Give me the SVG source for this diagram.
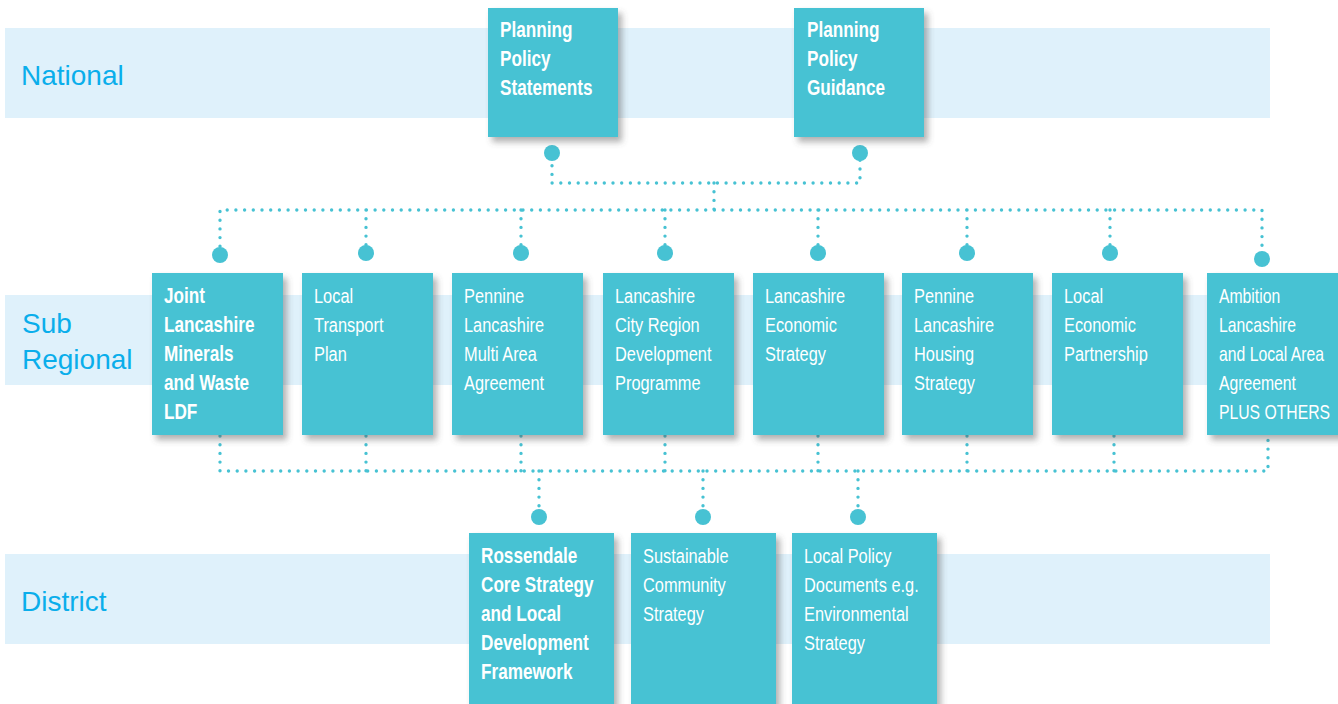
<svg xmlns="http://www.w3.org/2000/svg" width="1338" height="704" viewBox="0 0 1338 704">
<defs>
<filter id="sh" x="-10%" y="-10%" width="130%" height="130%">
<feDropShadow dx="4" dy="5" stdDeviation="3" flood-color="#555" flood-opacity="0.45"/>
</filter>
<style>
.band{fill:#DFF1FB}
.lbl{font-family:"Liberation Sans",Arial,sans-serif;font-size:28px;fill:#0AAEEB}
.box{fill:#47C2D3;filter:url(#sh)}
.t{font-family:"Liberation Sans",Arial,sans-serif;font-size:21px;fill:#fff}
.b{font-weight:bold;font-size:22px}
.dot{fill:none;stroke:#47C2D3;stroke-width:3.4;stroke-linecap:round;stroke-dasharray:0 8.7}
.c{fill:#47C2D3}
</style>
</defs>
<rect width="1338" height="704" fill="#fff"/>
<g id="bands">
<rect class="band" x="5" y="28" width="1265" height="90"/>
<rect class="band" x="5" y="295" width="1265" height="90"/>
<rect class="band" x="5" y="554" width="1265" height="90"/>
<text class="lbl" x="21" y="85">National</text>
<text class="lbl" x="22" y="333">Sub</text>
<text class="lbl" x="22" y="369">Regional</text>
<text class="lbl" x="21" y="611">District</text>
</g>
<g id="connectors">
<path class="dot" d="M552 157V183H860V157M714 183V210"/>
<path class="dot" d="M220 255V210H1262V259M366 210V253M521 210V253M665 210V253M818 210V253M967 210V253M1110 210V253"/>
<path class="dot" d="M220 436V471H1268V436M366 436V471M521 436V471M665 436V471M818 436V471M967 436V471M1114 436V471"/>
<path class="dot" d="M539 471V517M703 471V517M858 471V517"/>
<circle class="c" cx="552" cy="153" r="8"/>
<circle class="c" cx="860" cy="153" r="8"/>
<circle class="c" cx="220" cy="255" r="8"/>
<circle class="c" cx="366" cy="253" r="8"/>
<circle class="c" cx="521" cy="253" r="8"/>
<circle class="c" cx="665" cy="253" r="8"/>
<circle class="c" cx="818" cy="253" r="8"/>
<circle class="c" cx="967" cy="253" r="8"/>
<circle class="c" cx="1110" cy="253" r="8"/>
<circle class="c" cx="1262" cy="259" r="8"/>
<circle class="c" cx="539" cy="517" r="8"/>
<circle class="c" cx="703" cy="517" r="8"/>
<circle class="c" cx="858" cy="517" r="8"/>
</g>
<g id="pps"><rect class="box" x="488" y="8" width="130" height="129"/>
<text class="t b" transform="translate(500 0) scale(0.78 1)"><tspan x="0" y="37">Planning</tspan><tspan x="0" y="66">Policy</tspan><tspan x="0" y="95">Statements</tspan></text></g>
<g id="ppg"><rect class="box" x="794" y="8" width="130" height="129"/>
<text class="t b" transform="translate(807 0) scale(0.78 1)"><tspan x="0" y="37">Planning</tspan><tspan x="0" y="66">Policy</tspan><tspan x="0" y="95">Guidance</tspan></text></g>
<g id="jlmw"><rect class="box" x="152" y="273" width="131" height="162"/>
<text class="t b" transform="translate(164 0) scale(0.78 1)"><tspan x="0" y="303">Joint</tspan><tspan x="0" y="332">Lancashire</tspan><tspan x="0" y="361">Minerals</tspan><tspan x="0" y="390">and Waste</tspan><tspan x="0" y="419">LDF</tspan></text></g>
<g id="ltp"><rect class="box" x="302" y="273" width="131" height="162"/>
<text class="t" transform="translate(314 0) scale(0.78 1)"><tspan x="0" y="303">Local</tspan><tspan x="0" y="332">Transport</tspan><tspan x="0" y="361">Plan</tspan></text></g>
<g id="plmaa"><rect class="box" x="452" y="273" width="131" height="162"/>
<text class="t" transform="translate(464 0) scale(0.78 1)"><tspan x="0" y="303">Pennine</tspan><tspan x="0" y="332">Lancashire</tspan><tspan x="0" y="361">Multi Area</tspan><tspan x="0" y="390">Agreement</tspan></text></g>
<g id="lcrdp"><rect class="box" x="603" y="273" width="131" height="162"/>
<text class="t" transform="translate(615 0) scale(0.78 1)"><tspan x="0" y="303">Lancashire</tspan><tspan x="0" y="332">City Region</tspan><tspan x="0" y="361">Development</tspan><tspan x="0" y="390">Programme</tspan></text></g>
<g id="les"><rect class="box" x="753" y="273" width="131" height="162"/>
<text class="t" transform="translate(765 0) scale(0.78 1)"><tspan x="0" y="303">Lancashire</tspan><tspan x="0" y="332">Economic</tspan><tspan x="0" y="361">Strategy</tspan></text></g>
<g id="plhs"><rect class="box" x="902" y="273" width="131" height="162"/>
<text class="t" transform="translate(914 0) scale(0.78 1)"><tspan x="0" y="303">Pennine</tspan><tspan x="0" y="332">Lancashire</tspan><tspan x="0" y="361">Housing</tspan><tspan x="0" y="390">Strategy</tspan></text></g>
<g id="lep"><rect class="box" x="1052" y="273" width="131" height="162"/>
<text class="t" transform="translate(1064 0) scale(0.78 1)"><tspan x="0" y="303">Local</tspan><tspan x="0" y="332">Economic</tspan><tspan x="0" y="361">Partnership</tspan></text></g>
<g id="alla"><rect class="box" x="1207" y="273" width="135" height="162"/>
<text class="t" transform="translate(1219 0) scale(0.75 1)"><tspan x="0" y="303">Ambition</tspan><tspan x="0" y="332">Lancashire</tspan><tspan x="0" y="361">and Local Area</tspan><tspan x="0" y="390">Agreement</tspan><tspan x="0" y="419">PLUS OTHERS</tspan></text></g>
<g id="rcs"><rect class="box" x="469" y="533" width="145" height="180"/>
<text class="t b" transform="translate(481 0) scale(0.78 1)"><tspan x="0" y="563">Rossendale</tspan><tspan x="0" y="592">Core Strategy</tspan><tspan x="0" y="621">and Local</tspan><tspan x="0" y="650">Development</tspan><tspan x="0" y="679">Framework</tspan></text></g>
<g id="scs"><rect class="box" x="631" y="533" width="145" height="180"/>
<text class="t" transform="translate(643 0) scale(0.78 1)"><tspan x="0" y="563">Sustainable</tspan><tspan x="0" y="592">Community</tspan><tspan x="0" y="621">Strategy</tspan></text></g>
<g id="lpd"><rect class="box" x="792" y="533" width="145" height="180"/>
<text class="t" transform="translate(804 0) scale(0.78 1)"><tspan x="0" y="563">Local Policy</tspan><tspan x="0" y="592">Documents e.g.</tspan><tspan x="0" y="621">Environmental</tspan><tspan x="0" y="650">Strategy</tspan></text></g>
</svg>
